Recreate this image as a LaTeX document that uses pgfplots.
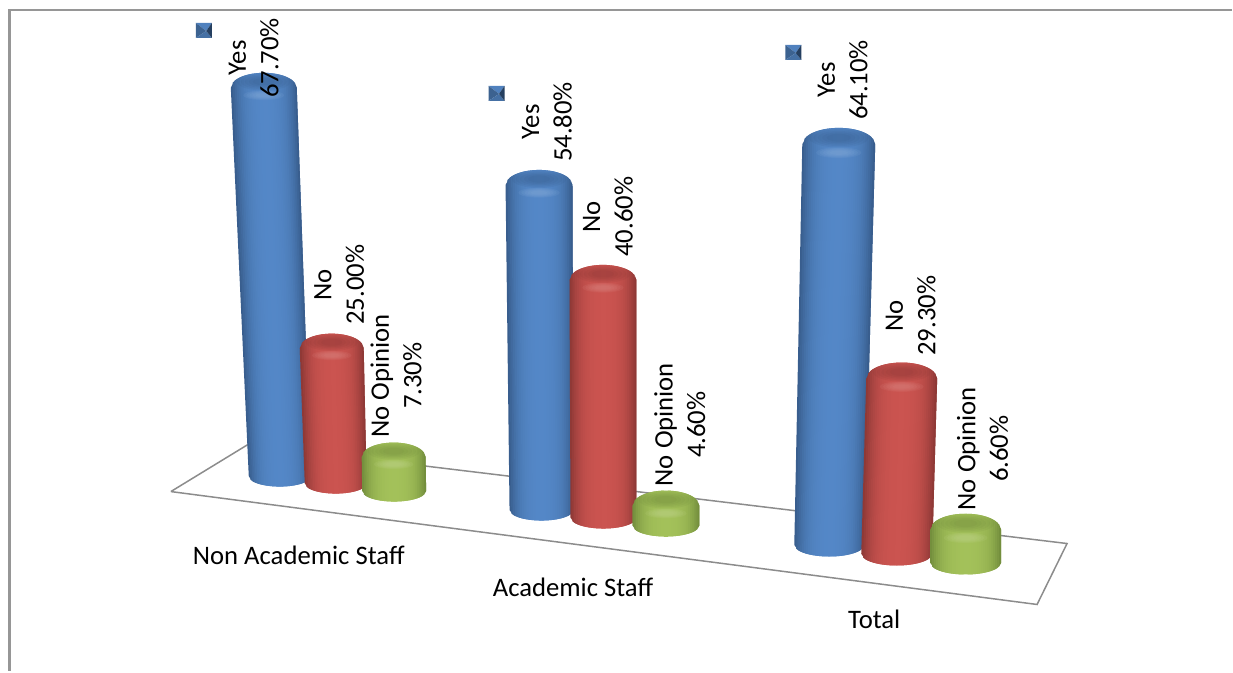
\documentclass[border=0pt]{standalone}
\usepackage{pgfplots}
\pgfplotsset{compat=1.18}
\usepackage{fontspec}
\setmainfont{Carlito}

\definecolor{blueL}{RGB}{84,136,200}
\definecolor{blueD}{RGB}{50,84,128}
\definecolor{redL}{RGB}{204,84,80}
\definecolor{redD}{RGB}{128,50,48}
\definecolor{greenL}{RGB}{164,194,90}
\definecolor{greenD}{RGB}{104,130,54}
\definecolor{frameline}{RGB}{150,150,150}
\definecolor{floorline}{RGB}{140,140,140}

% Filled ellipse as a polygon: cx, cy, rx, ry, colour, opacity
\newcommand{\blob}[6]{%
  \gdef\blobpts{}%
  \foreach \t in {0,20,...,340}{%
    \pgfmathsetmacro\px{#1+(#3)*cos(\t)}%
    \pgfmathsetmacro\py{#2+(#4)*sin(\t)}%
    \xdef\blobpts{\blobpts (\px,\py)}%
  }%
  \edef\temp{\noexpand\addplot[draw=none,fill=#5,fill opacity=#6] coordinates {\blobpts};}\temp
}
% Soft-edged version: concentric layers
\newcommand{\softblob}[6]{%
  \foreach \s in {1,0.85,0.7,0.55,0.4}{%
    \pgfmathsetmacro\rxx{(#3)*\s}%
    \pgfmathsetmacro\ryy{(#4)*\s}%
    \blob{#1}{#2}{\rxx}{\ryy}{#5}{#6}%
  }%
}
% Leaning cylinder drawn in vertical strips.
% value, base offset, px per percent, bottom y, bottom cx, bottom half width,
% top cx, top half width, colour family
\newcommand{\cylinder}[9]{%
  \pgfmathsetmacro\yt{#4-#2-#3*#1}%
  \pgfmathsetmacro\rb{0.33*#6}%
  \pgfmathsetmacro\rt{0.45*#8}%
  \foreach \i in {0,...,35}{%
    \pgfmathsetmacro\ua{-1+\i/18}%
    \pgfmathsetmacro\ub{min(1,\ua+1/9)}%
    \pgfmathsetmacro\um{\ua+1/36}%
    \pgfmathsetmacro\pct{int(100*(1-0.85*pow(abs(\um),3.4))*(\um>0 ? 1-0.10*\um : 1+0.12*\um))}%
    \pgfmathsetmacro\xta{#7+#8*\ua}%
    \pgfmathsetmacro\xtb{#7+#8*\ub}%
    \pgfmathsetmacro\xba{#5+#6*\ua}%
    \pgfmathsetmacro\xbb{#5+#6*\ub}%
    \pgfmathsetmacro\yta{\yt+\rt*(1-sqrt(max(0,1-\ua*\ua)))}%
    \pgfmathsetmacro\ytb{\yt+\rt*(1-sqrt(max(0,1-\ub*\ub)))}%
    \pgfmathsetmacro\yba{#4-\rb+\rb*sqrt(max(0,1-\ua*\ua))}%
    \pgfmathsetmacro\ybb{#4-\rb+\rb*sqrt(max(0,1-\ub*\ub))}%
    \edef\temp{\noexpand\addplot[draw=none,fill=#9L!\pct!#9D] coordinates
      {(\xta,\yta)(\xtb,\ytb)(\xbb,\ybb)(\xba,\yba)};}\temp
  }%
  % cap: darker disc on top, light lip below it
  \pgfmathsetmacro\capy{\yt+0.27*#8}%
  \pgfmathsetmacro\caprx{0.82*#8}%
  \pgfmathsetmacro\capry{0.27*#8}%
  \softblob{#7}{\capy}{\caprx}{\capry}{#9D}{0.11}%
  \pgfmathsetmacro\liprx{0.62*#8}%
  \pgfmathsetmacro\lipry{0.15*#8}%
  \pgfmathsetmacro\lipy{\yt+0.68*#8}%
  \softblob{#7}{\lipy}{\liprx}{\lipry}{#9L!70!white}{0.14}%
}
% Small bevelled key square
\newcommand{\keysq}[2]{%
  \pgfmathsetmacro\xa{#1+16}\pgfmathsetmacro\ya{#2+15}%
  \pgfmathsetmacro\xc{#1+10.5}\pgfmathsetmacro\yc{#2+8}%
  \edef\temp{%
    \noexpand\addplot[draw=none,fill=blueL!95!black] coordinates {(#1,#2)(\xa,#2)(\xc,\yc)};
    \noexpand\addplot[draw=none,fill=blueL!72!black] coordinates {(#1,#2)(#1,\ya)(\xc,\yc)};
    \noexpand\addplot[draw=none,fill=blueL!82!black] coordinates {(#1,\ya)(\xa,\ya)(\xc,\yc)};
    \noexpand\addplot[draw=none,fill=blueD!75!black] coordinates {(\xa,#2)(\xa,\ya)(\xc,\yc)};
  }\temp
}
\newcommand{\vallabel}[4]{%
  \node[rotate=90,align=center,inner sep=0pt,font=\fontsize{26.7}{32.5}\selectfont]
    at (axis cs:#1,#2) {#3\\#4};%
}
\newcommand{\catlabel}[3]{%
  \node[anchor=base,inner sep=0pt,font=\fontsize{26.7}{32}\selectfont]
    at (axis cs:#1,#2) {#3};%
}

\begin{document}
\begin{tikzpicture}
\begin{axis}[
  scale only axis,
  width=1233pt,height=672pt,
  xmin=0,xmax=1233,ymin=0,ymax=672,
  y dir=reverse,
  clip=false,
  axis line style={draw=none},
  tick style={draw=none},
  xtick=\empty,ytick=\empty,
]
% outer frame (top and left edges)
\addplot[draw=frameline,line width=2.2pt] coordinates {(1233,10)(9.5,10)(9.5,672)};
% floor of the chart
\addplot[draw=floorline,line width=1.5pt] coordinates
  {(171,492)(248,445)(1068,544)(1038,605)(171,492)};

% Non Academic Staff
\cylinder{67.7}{11.3}{5.95}{487}{280}{31}{264}{33}{blue}
\cylinder{25.0}{11.3}{5.95}{494}{336}{31}{332}{32}{red}
\cylinder{7.3}{15.6}{5.95}{502}{394.5}{32}{394}{32}{green}
% Academic Staff
\cylinder{54.8}{15}{6.13}{521}{542}{32}{539.5}{33.5}{blue}
\cylinder{40.6}{15}{6.13}{529}{604}{33}{603.5}{33.5}{red}
\cylinder{4.6}{17.8}{6.13}{537}{666.5}{33.5}{666.5}{33.5}{green}
% Total
\cylinder{64.1}{13}{6.49}{557}{830}{35}{839.5}{36.5}{blue}
\cylinder{29.3}{13}{6.49}{566}{897.5}{35.5}{902.5}{35.5}{red}
\cylinder{6.6}{18}{6.49}{575}{966.5}{35.5}{966.5}{35.5}{green}

% key squares beside the first series
\keysq{196}{23}
\keysq{489}{86}
\keysq{786}{45}

% data labels
\vallabel{254}{58}{Yes}{67.70\%}
\vallabel{339.5}{285}{No}{25.00\%}
\vallabel{396.5}{376}{No Opinion}{7.30\%}
\vallabel{547.5}{122}{Yes}{54.80\%}
\vallabel{608.5}{217}{No}{40.60\%}
\vallabel{680.5}{425}{No Opinion}{4.60\%}
\vallabel{843.5}{80}{Yes}{64.10\%}
\vallabel{911.5}{316}{No}{29.30\%}
\vallabel{983.5}{449}{No Opinion}{6.60\%}

% category labels
\catlabel{299}{565}{Non Academic Staff}
\catlabel{573.5}{597}{Academic Staff}
\catlabel{875}{629}{Total}
\end{axis}
\end{tikzpicture}
\end{document}
